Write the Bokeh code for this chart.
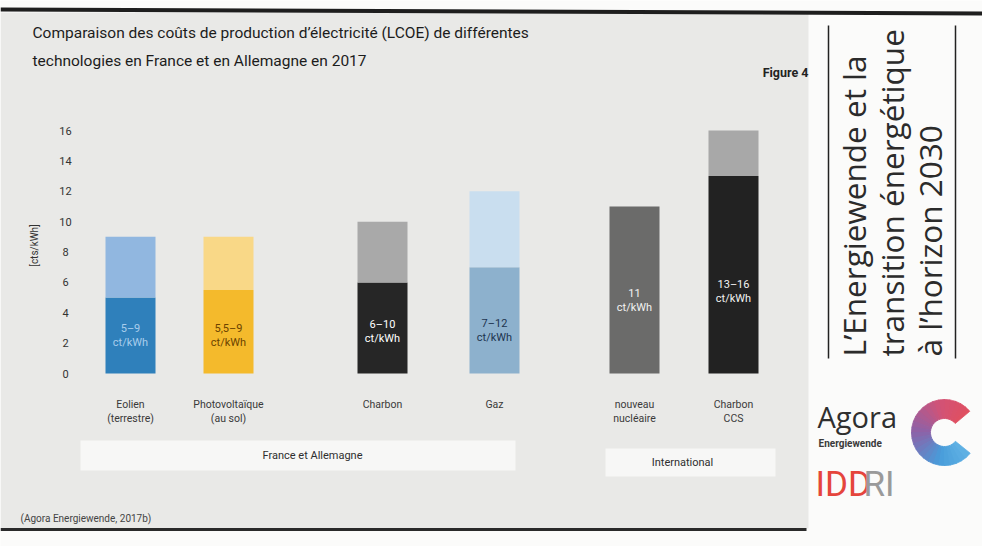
import math

from bokeh.core.properties import value
from bokeh.embed import file_html
from bokeh.models import Label, Range1d
from bokeh.plotting import figure
from bokeh.resources import INLINE

# ---- data -------------------------------------------------------------
technologies = [
    "Eolien\n(terrestre)",
    "Photovoltaïque\n(au sol)",
    "Charbon",
    "Gaz",
    "nouveau\nnucléaire",
    "Charbon\nCCS",
]
cost_low = [5, 5.5, 6, 7, 11, 13]      # ct/kWh, lower end of range
cost_high = [9, 9, 10, 12, 11, 16]     # ct/kWh, upper end of range
range_labels = ["5–9\nct/kWh", "5,5–9\nct/kWh", "6–10\nct/kWh",
                "7–12\nct/kWh", "11\nct/kWh", "13–16\nct/kWh"]
groups = ["France et Allemagne", "International"]
y_ticks = [0, 2, 4, 6, 8, 10, 12, 14, 16]

# ---- styling / layout -------------------------------------------------
low_colors = ["#2f80bb", "#f4ba2c", "#262626", "#8db1cd", "#6b6b6a", "#222222"]
high_colors = ["#91b7e0", "#f9d887", "#a9a9a9", "#c9deef", "#6b6b6a", "#a8a8a8"]
label_colors = ["#a9cdec", "#6b4300", "#ffffff", "#1d3550", "#f2f2f2", "#f2f2f2"]
bar_x = [130, 228, 382, 494, 634, 733]          # horizontal slots (px)
label_y_px = [335, 335, 331, 330, 300, 291]     # row of in-bar labels (px)
group_boxes = [(80, 515, 440, 470), (605, 775, 448, 476)]
group_text_pos = [(312, 455), (682, 462)]

W, H = 982, 546
ZERO_PX, TOP_PX = 373, 130          # canvas rows of 0 and 16 ct/kWh
K = (ZERO_PX - TOP_PX) / 16.0

FONT_NAME = "Roboto"
FONT = value(FONT_NAME)

p = figure(
    width=W, height=H,
    x_range=Range1d(0, W),
    y_range=Range1d((ZERO_PX - H) / K, ZERO_PX / K),
    x_axis_type=None, y_axis_type=None,
    toolbar_location=None, output_backend="svg",
    min_border=0,
)
p.extra_y_ranges = {"px": Range1d(H, 0)}
p.grid.visible = False
p.outline_line_color = None
p.background_fill_color = "#fbfbfa"
p.border_fill_color = "#fbfbfa"

# page panels and rules
p.quad(left=[0], right=[808], top=[12], bottom=[528], y_range_name="px",
       fill_color="#e9e9e7", line_color=None)
p.line(x=[0, W], y=[9, 13], y_range_name="px", line_color="#1e1e1e", line_width=4)
p.line(x=[0, 806], y=[529, 529], y_range_name="px", line_color="#2a2a2a", line_width=3)
p.line(x=[828, 828], y=[25, 358], y_range_name="px", line_color="#222222", line_width=1.5)
p.line(x=[955, 955], y=[25, 358], y_range_name="px", line_color="#222222", line_width=1.5)

# group bands
for (l, r, t, b), name, (gx, gy) in zip(group_boxes, groups, group_text_pos):
    p.quad(left=[l], right=[r], top=[t], bottom=[b], y_range_name="px",
           fill_color="#f7f7f6", line_color=None)
    p.text(x=[gx], y=[gy], text=[name], y_range_name="px",
           text_align="center", text_baseline="middle",
           text_font=FONT, text_font_size="11px", text_color="#2e2e2e")

# stacked range bars
p.vbar(x=bar_x, width=50, bottom=0, top=cost_low,
       fill_color=low_colors, line_color=None)
p.vbar(x=bar_x, width=50, bottom=cost_low, top=cost_high,
       fill_color=high_colors, line_color=None)

# range labels inside the bars
p.text(x=bar_x, y=label_y_px, text=range_labels, y_range_name="px",
       text_align="center", text_baseline="middle", text_line_height=1.15,
       text_font=FONT, text_font_size="11px", text_color=label_colors)

# y tick labels
p.text(x=[65] * len(y_ticks), y=y_ticks, text=[str(t) for t in y_ticks],
       text_align="center", text_baseline="middle",
       text_font=FONT, text_font_size="11px", text_color="#333333")
p.add_layout(Label(x=34, y=245, y_range_name="px", text="[cts/kWh]",
                   angle=math.pi / 2, text_align="center", text_baseline="middle",
                   text_font=FONT_NAME, text_font_size="10px", text_color="#333333"))

# category labels
p.text(x=bar_x, y=[397] * len(bar_x), text=technologies, y_range_name="px",
       text_align="center", text_baseline="top", text_line_height=1.15,
       text_font=FONT, text_font_size="10.5px", text_color="#3a3a3a")

# title, figure number, source
for txt, yy in [("Comparaison des coûts de production d’électricité (LCOE) de différentes", 32),
                ("technologies en France et en Allemagne en 2017", 60)]:
    p.add_layout(Label(x=32, y=yy, y_range_name="px", text=txt,
                       text_baseline="middle", text_font=FONT_NAME,
                       text_font_size="15.5px", text_color="#1c1c1c"))
p.add_layout(Label(x=808, y=72, y_range_name="px", text="Figure 4",
                   text_align="right", text_baseline="middle", text_font=FONT_NAME,
                   text_font_size="12.5px", text_font_style="bold", text_color="#222222"))
p.add_layout(Label(x=20, y=518, y_range_name="px", text="(Agora Energiewende, 2017b)",
                   text_baseline="middle", text_font=FONT_NAME,
                   text_font_size="10px", text_color="#444444"))

# vertical publication title
for txt, xx in [("L’Energiewende et la", 853), ("transition énergétique", 891),
                ("à l’horizon 2030", 929)]:
    p.add_layout(Label(x=xx, y=356, y_range_name="px", text=txt, angle=math.pi / 2,
                       text_align="left", text_baseline="middle",
                       text_font="Open Sans", text_font_size="31.5px",
                       text_color="#2b2b2b"))

# Agora Energiewende logo
p.add_layout(Label(x=817, y=416, y_range_name="px", text="Agora",
                   text_baseline="middle", text_font="Open Sans",
                   text_font_size="29px", text_color="#2f2f2f"))
p.add_layout(Label(x=818, y=443, y_range_name="px", text="Energiewende",
                   text_baseline="middle", text_font=FONT_NAME,
                   text_font_size="10px", text_font_style="bold", text_color="#3a3a3a"))
ring_stops = [(40, (224, 80, 96)), (100, (210, 82, 118)), (180, (140, 98, 168)),
              (260, (72, 156, 218)), (320, (96, 178, 228))]
n_seg = 28
seg_start, seg_end, seg_color = [], [], []
for i in range(n_seg):
    a0 = 40 + (320 - 40) * i / n_seg
    a1 = 40 + (320 - 40) * (i + 1) / n_seg
    am = 0.5 * (a0 + a1)
    for (s0, c0), (s1, c1) in zip(ring_stops[:-1], ring_stops[1:]):
        if s0 <= am <= s1:
            t = (am - s0) / (s1 - s0)
            c = tuple(int(round(c0[j] + (c1[j] - c0[j]) * t)) for j in range(3))
            break
    seg_start.append(math.radians(a0))
    seg_end.append(math.radians(a1) + 0.02)
    seg_color.append("#%02x%02x%02x" % c)
p.annular_wedge(x=[944] * n_seg, y=[432] * n_seg, y_range_name="px",
                inner_radius=14, outer_radius=33,
                inner_radius_units="screen", outer_radius_units="screen",
                start_angle=seg_start, end_angle=seg_end,
                fill_color=seg_color, line_color=seg_color, line_width=0.8)

# IDDRI logo
p.add_layout(Label(x=815, y=484, y_range_name="px", text="IDD",
                   text_baseline="middle", text_font="Roboto",
                   text_font_size="35px", text_color="#e5453c"))
p.add_layout(Label(x=863, y=484, y_range_name="px", text="RI",
                   text_baseline="middle", text_font="Roboto",
                   text_font_size="35px", text_color="#9a9a9a"))

open("out.html", "w").write(file_html(p, INLINE))
